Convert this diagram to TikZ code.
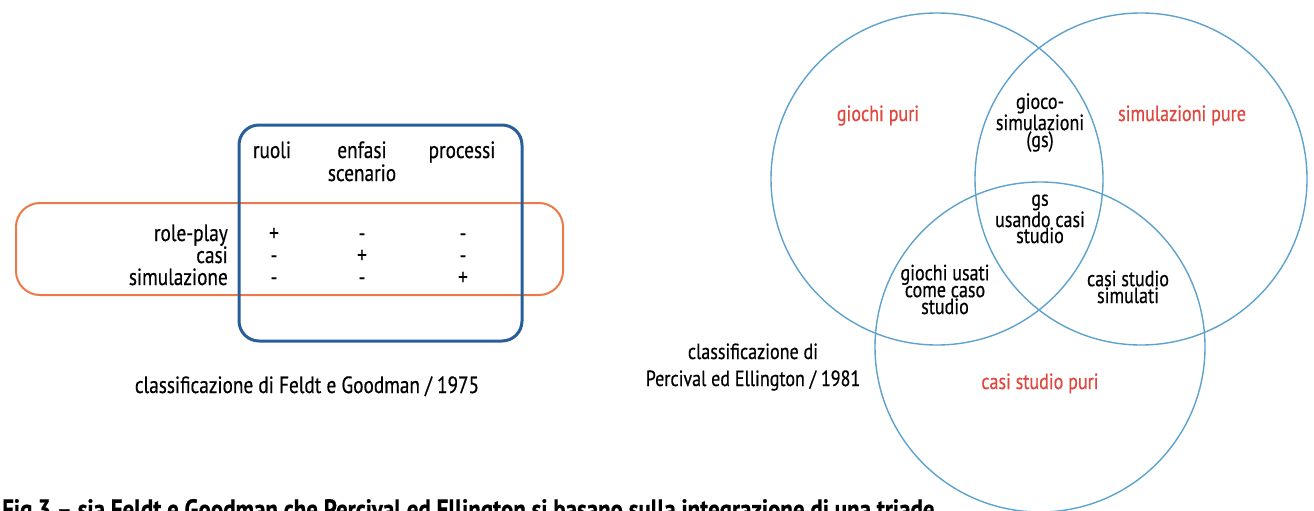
\documentclass[tikz,border=0pt]{standalone}
\usepackage{fontspec}
\setmainfont{PT Sans}
\newfontfamily\cf{PT Sans}[FakeStretch=0.82, FakeBold=0.5]
\definecolor{boxblue}{RGB}{40,95,155}
\definecolor{boxorange}{RGB}{236,122,72}
\definecolor{venblue}{RGB}{95,162,205}
\definecolor{lblred}{RGB}{222,72,62}
\begin{document}
\begin{tikzpicture}[x=1pt,y=-1pt,
  tab/.style={inner sep=0pt, anchor=base, font=\cf\fontsize{23.5}{23}\selectfont},
  hdr/.style={inner sep=0pt, anchor=base, align=center, font=\cf\fontsize{23.5}{23}\selectfont},
  vl/.style={inner sep=0pt, anchor=base, align=center, font=\cf\fontsize{22}{15.5}\selectfont},
  redlbl/.style={inner sep=0pt, anchor=base, text=lblred, font=\cf\fontsize{22}{17}\selectfont},
  vset/.style={draw=venblue, line width=1.4pt, circle, inner sep=0pt, minimum size=332pt},
  capt/.style={inner sep=0pt, anchor=base, align=center},
]
\useasboundingbox (0,0) rectangle (1314,511);
\fill[white] (0,0) rectangle (1314,511);

% ---- Feldt & Goodman table ----
\node[draw=boxorange, line width=2pt, rounded corners=24pt, minimum width=547pt, minimum height=92pt, inner sep=0pt] (rows) at (289.5,249) {};
\node[draw=boxblue, line width=3pt, rounded corners=20pt, minimum width=283pt, minimum height=216pt, inner sep=0pt] (cols) at (380.5,233) {};

\node[tab] (hruoli) at (272,158) {ruoli};
\node[hdr] (henfasi) at (362,181) {enfasi\\scenario};
\node[tab] (hproc) at (462,158) {processi};

\node[tab, anchor=base east] (rrole) at (228,241) {role-play};
\node[tab, anchor=base east] (rcasi) at (228,263) {casi};
\node[tab, anchor=base east] (rsim) at (228,285) {simulazione};

\node[tab] (m11) at (274,241) {+};
\node[tab] (m12) at (362,241) {-};
\node[tab] (m13) at (463,241) {-};
\node[tab] (m21) at (274,263) {-};
\node[tab] (m22) at (362,263) {+};
\node[tab] (m23) at (463,263) {-};
\node[tab] (m31) at (274,285) {-};
\node[tab] (m32) at (362,285) {-};
\node[tab] (m33) at (463,285) {+};

\node[capt, font=\cf\fontsize{23.5}{24}\selectfont] (fgcap) at (307,393) {classificazione di Feldt e Goodman / 1975};

% ---- Percival & Ellington Venn ----
\node[vset] (cgiochi) at (937,179) {};
\node[vset] (csim) at (1141,179) {};
\node[vset, minimum size=330pt] (ccasi) at (1040,347) {};

\node[redlbl] (lgiochi) at (878,121) {giochi puri};
\node[redlbl] (lsim) at (1182,121) {simulazioni pure};
\node[redlbl] (lcasi) at (1040,389) {casi studio puri};

\node[vl] (lgs) at (1040,147) {gioco-\\simulazioni\\(gs)};
\node[vl, font=\cf\fontsize{22}{16}\selectfont] (lgscasi) at (1040,243) {gs\\usando casi\\studio};
\node[vl] (lgiocasi) at (945,314) {giochi usati\\come caso\\studio};
\node[vl] (lcasisim) at (1128,303) {casi studio\\simulati};

\node[capt, font=\cf\fontsize{22}{27}\selectfont] (pecap) at (753,386) {classificazione di\\Percival ed Ellington / 1981};

% ---- figure caption (cut by the lower edge) ----
\node[inner sep=0pt, anchor=base west, font=\cf\fontsize{28}{29}\selectfont\bfseries] (figcap) at (2,519) {Fig.3 – sia Feldt e Goodman che Percival ed Ellington si basano sulla integrazione di una triade};
\end{tikzpicture}
\end{document}
